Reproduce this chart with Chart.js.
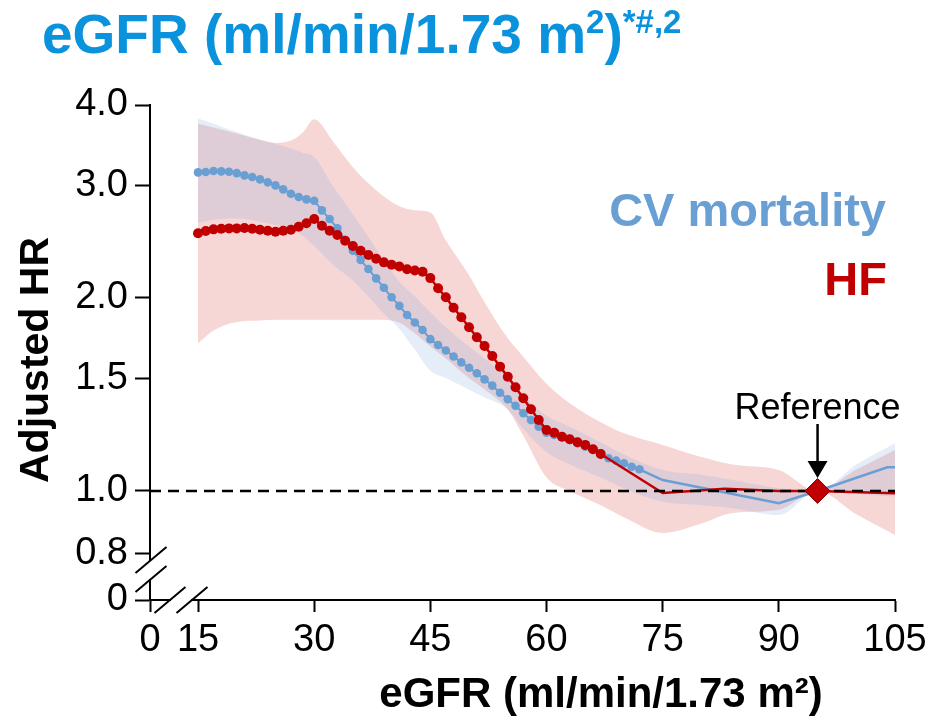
<!DOCTYPE html>
<html><head><meta charset="utf-8">
<script src="https://cdn.jsdelivr.net/npm/chart.js@4"></script>
<style>html,body{margin:0;padding:0;background:#fff}#wrap{width:933px;height:719px;position:relative}</style>
</head><body><div id="wrap"><canvas id="c" width="933" height="719"></canvas></div>
<script>
// ---------- data ----------
const X_MIN = 8.8, X_MAX = 105;        // axis starts at the broken "0"
const Y_MIN = 0.676, Y_MAX = 4.0;      // log axis, bottom = broken "0"
const xTickValues = [15, 30, 45, 60, 75, 90, 105];
const yTickValues = [0.8, 1.0, 1.5, 2.0, 3.0, 4.0];

const cvDotX = [15,16,17,18,19,20,21,22,23,24,25,26,27,28,29,30,31,32,33,34,35,36,37,38,39,40,41,42,43,44,45,46,47,48,49,50,51,52,53,54,55,56,57,58,59,60,61,62,63,64,65,66,67,68,69,70,71,72];
const cvDotY = [3.140,3.144,3.155,3.152,3.147,3.132,3.107,3.088,3.062,3.030,2.997,2.954,2.908,2.874,2.850,2.836,2.740,2.656,2.568,2.463,2.370,2.292,2.219,2.146,2.075,2.005,1.944,1.881,1.831,1.783,1.725,1.689,1.656,1.621,1.587,1.557,1.526,1.493,1.460,1.423,1.390,1.358,1.322,1.290,1.260,1.233,1.223,1.213,1.201,1.187,1.172,1.162,1.145,1.125,1.115,1.105,1.091,1.081];
const cvTailX = [72, 75, 90, 95, 104, 105];
const cvTailY = [1.081, 1.040, 0.957, 1.0, 1.089, 1.089];

const hfDotX = [15,16,17,18,19,20,21,22,23,24,25,26,27,28,29,30,31,32,33,34,35,36,37,38,39,40,41,42,43,44,45,46,47,48,49,50,51,52,53,54,55,56,57,58,59,60,61,62,63,64,65,66,67];
const hfDotY = [2.523,2.544,2.559,2.565,2.568,2.568,2.571,2.565,2.556,2.546,2.537,2.546,2.556,2.583,2.615,2.656,2.592,2.546,2.507,2.456,2.410,2.370,2.334,2.303,2.273,2.254,2.240,2.218,2.208,2.197,2.148,2.071,2.005,1.931,1.866,1.800,1.737,1.683,1.624,1.563,1.507,1.451,1.395,1.341,1.290,1.245,1.233,1.215,1.204,1.191,1.180,1.162,1.142];
const hfTailX = [67, 75, 83, 90, 95, 105];
const hfTailY = [1.142, 0.993, 1.008, 1.0, 1.0, 0.992];

const bandX = [15,17,20,23,25,27,28.5,30,32.5,35,37,39,41,43,45,47,50,52,55,57,60,63,67,70,75,80,84,90,95,100,105];
const cvHi  = [3.81,3.74,3.63,3.53,3.48,3.42,3.37,3.32,2.98,2.70,2.49,2.29,2.12,2.01,1.90,1.80,1.68,1.61,1.50,1.41,1.31,1.26,1.19,1.14,1.078,1.06,1.04,1.01,1.0,1.10,1.187];
const cvLo  = [2.62,2.65,2.66,2.63,2.60,2.57,2.50,2.41,2.25,2.13,2.01,1.89,1.79,1.66,1.54,1.50,1.44,1.40,1.34,1.25,1.15,1.10,1.05,1.01,0.962,0.95,0.94,0.917,1.0,0.99,0.98];
const hfHi  = [3.74,3.69,3.61,3.53,3.49,3.52,3.62,3.80,3.50,3.20,3.02,2.88,2.78,2.74,2.72,2.46,2.17,1.97,1.73,1.62,1.47,1.37,1.28,1.23,1.18,1.13,1.10,1.078,1.0,1.08,1.159];
const hfLo  = [1.70,1.78,1.835,1.845,1.85,1.85,1.85,1.85,1.85,1.85,1.85,1.85,1.83,1.76,1.68,1.61,1.50,1.44,1.34,1.22,1.05,1.00,0.95,0.91,0.86,0.89,0.924,0.935,1.0,0.92,0.854];

const refX = [95], refY = [1.0];
const dashX = [X_MIN, X_MAX], dashY = [1.0, 1.0];

// ---------- helpers ----------
const pts = (xs, ys) => xs.map((x, i) => ({x, y: ys[i]}));
const FONT = '"Liberation Sans", Arial, Helvetica, sans-serif';
const BLUE = '#6a9fd4', RED = '#c00000', TITLE_BLUE = '#0a92dc';

const decor = {
  id: 'decor',
  afterDraw(chart) {
    const {ctx, chartArea: ca, scales: {x, y}} = chart;
    ctx.save();
    // ----- axis breaks -----
    const ax = ca.left, ay = ca.bottom;
    const y08 = y.getPixelForValue(0.8);
    ctx.fillStyle = '#fff';
    ctx.fillRect(ax - 3, y08 + 8, 6, 18);            // gap in y axis
    ctx.fillRect(ax + 21, ay - 3, 20, 6);            // gap in x axis
    ctx.strokeStyle = '#000'; ctx.lineWidth = 2;
    const slash = (cx, cy) => { ctx.beginPath(); ctx.moveTo(cx - 15.5, cy + 13); ctx.lineTo(cx + 15.5, cy - 13); ctx.stroke(); };
    slash(ax + 1, y08 + 7);
    slash(ax + 1, y08 + 26);
    slash(ax + 20, ay);
    slash(ax + 42, ay);

    // ----- reference arrow + label -----
    const rx = x.getPixelForValue(refX[0]), ry = y.getPixelForValue(refY[0]);
    ctx.fillStyle = '#000'; ctx.strokeStyle = '#000'; ctx.lineWidth = 2.5;
    ctx.beginPath(); ctx.moveTo(rx, ry - 67); ctx.lineTo(rx, ry - 28); ctx.stroke();
    ctx.beginPath(); ctx.moveTo(rx - 10, ry - 30); ctx.lineTo(rx + 10, ry - 30); ctx.lineTo(rx, ry - 13); ctx.closePath(); ctx.fill();
    ctx.font = '36px ' + FONT; ctx.textAlign = 'center'; ctx.textBaseline = 'alphabetic';
    ctx.fillText('Reference', rx, ry - 72);

    // ----- series labels -----
    ctx.font = 'bold 47px ' + FONT; ctx.textAlign = 'right';
    ctx.fillStyle = BLUE; ctx.fillText('CV mortality', ca.right - 9, 226);
    ctx.fillStyle = RED; ctx.fillText('HF', ca.right - 8, 295);

    // ----- axis titles -----
    ctx.fillStyle = '#000';
    ctx.font = 'bold 42px ' + FONT; ctx.textAlign = 'center';
    ctx.fillText('eGFR (ml/min/1.73 m²)', 601, 707);
    ctx.save();
    ctx.translate(48, 360); ctx.rotate(-Math.PI / 2);
    ctx.font = 'bold 41px ' + FONT; ctx.textAlign = 'center';
    ctx.fillText('Adjusted HR', 0, 0);
    ctx.restore();

    // ----- main title with superscripts -----
    ctx.fillStyle = TITLE_BLUE; ctx.textAlign = 'left';
    let tx = 42; const base = 53;
    const big = 'bold 55px ' + FONT, sup = 'bold 33px ' + FONT;
    const put = (t, f, dy) => { ctx.font = f; ctx.fillText(t, tx, base + dy); tx += ctx.measureText(t).width; };
    put('eGFR (ml/min/1.73 m', big, 0);
    put('2', sup, -20);
    put(')', big, 0);
    put('*#,2', sup, -20);
    ctx.restore();
  }
};

const lineDS = (data, o) => Object.assign({data, parsing: true, showLine: true}, o);

new Chart(document.getElementById('c'), {
  type: 'line',
  data: {
    datasets: [
      lineDS(pts(bandX, hfHi), {fill: '+1', backgroundColor: 'rgba(220,80,80,0.234)', borderWidth: 0, pointRadius: 0, cubicInterpolationMode: 'monotone', order: 10}),
      lineDS(pts(bandX, hfLo), {fill: false, borderWidth: 0, pointRadius: 0, cubicInterpolationMode: 'monotone', order: 10}),
      lineDS(pts(bandX, cvHi), {fill: '+1', backgroundColor: 'rgba(110,160,215,0.18)', borderWidth: 0, pointRadius: 0, cubicInterpolationMode: 'monotone', order: 9}),
      lineDS(pts(bandX, cvLo), {fill: false, borderWidth: 0, pointRadius: 0, cubicInterpolationMode: 'monotone', order: 9}),
      lineDS(pts(cvTailX, cvTailY), {borderColor: BLUE, borderWidth: 2.5, pointRadius: 0, order: 6}),
      lineDS(pts(cvDotX, cvDotY), {borderColor: BLUE, backgroundColor: BLUE, borderWidth: 2, pointRadius: 4.3, pointBorderWidth: 0, order: 5}),
      lineDS(pts(hfTailX, hfTailY), {borderColor: RED, borderWidth: 2.5, pointRadius: 0, order: 4}),
      lineDS(pts(hfDotX, hfDotY), {borderColor: RED, backgroundColor: RED, borderWidth: 2.5, pointRadius: 5, pointBorderWidth: 0, order: 3}),
      lineDS(pts(dashX, dashY), {borderColor: '#000', borderWidth: 2.5, borderDash: [11, 7], pointRadius: 0, order: 2}),
      lineDS(pts(refX, refY), {showLine: false, pointStyle: 'rectRot', pointRadius: 12.5, backgroundColor: RED, borderColor: '#8a0000', pointBorderWidth: 1, order: 1})
    ]
  },
  options: {
    responsive: false, devicePixelRatio: 1, animation: false, events: [],
    layout: {padding: {top: 105, right: 38, left: 0, bottom: 0}},
    plugins: {legend: {display: false}, tooltip: {enabled: false}, title: {display: false}},
    scales: {
      x: {
        type: 'linear', min: X_MIN, max: X_MAX,
        afterBuildTicks: s => { s.ticks = [X_MIN, ...xTickValues].map(v => ({value: v})); },
        afterFit: s => { s.height = 119; },
        ticks: {callback: v => v === X_MIN ? '0' : String(v), font: {family: FONT, size: 38}, color: '#000', padding: 6, maxRotation: 0, autoSkip: false},
        grid: {display: true, drawOnChartArea: false, drawTicks: true, tickLength: 12, tickWidth: 2, tickColor: '#000'},
        border: {display: true, color: '#000', width: 2}
      },
      y: {
        type: 'logarithmic', min: Y_MIN, max: Y_MAX,
        afterBuildTicks: s => { s.ticks = [Y_MIN, ...yTickValues].map(v => ({value: v})); },
        afterFit: s => { s.width = 150; },
        ticks: {callback: v => v === Y_MIN ? '0' : Number(v).toFixed(1), font: {family: FONT, size: 38}, color: '#000', padding: 7, autoSkip: false},
        grid: {display: true, drawOnChartArea: false, drawTicks: true, tickLength: 15, tickWidth: 2, tickColor: '#000'},
        border: {display: true, color: '#000', width: 2}
      }
    }
  },
  plugins: [decor]
});
</script></body></html>
